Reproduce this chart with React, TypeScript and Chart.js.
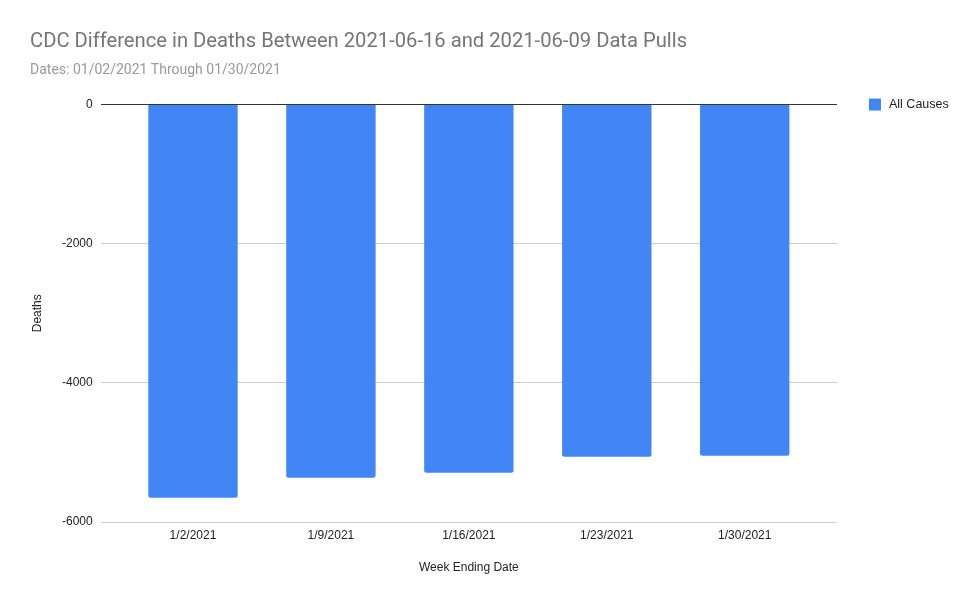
import React, { useEffect, useRef } from "react";
import { Chart, registerables } from "chart.js";

Chart.register(...registerables);

const categories = ["1/2/2021", "1/9/2021", "1/16/2021", "1/23/2021", "1/30/2021"];
const allCauses = [-5650, -5365, -5293, -5063, -5049];
const yTicks = [0, -2000, -4000, -6000];

const titleText = "CDC Difference in Deaths Between 2021-06-16 and 2021-06-09 Data Pulls";
const subtitleText = "Dates: 01/02/2021 Through 01/30/2021";

const legendPlugin = {
  id: "sideLegend",
  afterDraw(chart: any) {
    const ctx = chart.ctx;
    const area = chart.chartArea;
    ctx.save();
    chart.data.datasets.forEach((ds: any, i: number) => {
      const y = area.top + i * 20;
      ctx.fillStyle = ds.backgroundColor;
      ctx.fillRect(869, y - 6, 12, 12);
      ctx.fillStyle = "#222222";
      ctx.font = "12.5px 'Liberation Sans', Arial, sans-serif";
      ctx.textBaseline = "middle";
      ctx.textAlign = "left";
      ctx.fillText(ds.label, 889, y);
    });
    ctx.restore();
  },
};

export default function App() {
  const ref = useRef<HTMLCanvasElement | null>(null);
  useEffect(() => {
    if (!ref.current) return;
    const chart = new Chart(ref.current, {
      type: "bar",
      data: {
        labels: categories,
        datasets: [
          {
            label: "All Causes",
            data: allCauses,
            backgroundColor: "#4285F4",
            borderRadius: 2.5,
            borderSkipped: "start",
            barPercentage: 0.648,
            categoryPercentage: 1,
          },
        ],
      },
      options: {
        animation: false,
        responsive: true,
        maintainAspectRatio: false,
        layout: { padding: { left: 30, right: 143, top: 0, bottom: 27 } },
        plugins: {
          legend: { display: false },
          tooltip: { enabled: false },
          title: {
            display: true,
            text: titleText,
            align: "start",
            color: "#757575",
            font: { family: "Roboto, Arial, sans-serif", size: 20.2, weight: "normal" },
            padding: { top: 30, bottom: 0 },
          },
          subtitle: {
            display: true,
            text: subtitleText,
            align: "start",
            color: "#999999",
            font: { family: "Roboto, Arial, sans-serif", size: 14, weight: "normal" },
            padding: { top: 7.6, bottom: 25.9 },
          },
        },
        scales: {
          x: {
            grid: { display: false, drawTicks: false },
            border: { display: false },
            ticks: {
              color: "#222222",
              padding: 6,
              font: { family: "'Liberation Sans', Arial, sans-serif", size: 12 },
            },
            title: {
              display: true,
              text: "Week Ending Date",
              color: "#222222",
              font: { family: "'Liberation Sans', Arial, sans-serif", size: 12 },
              padding: { top: 17, bottom: 3.5 },
            },
            afterBuildTicks(scale: any) {
              const extra = 0.169;
              scale._startValue = -0.5 - extra;
              scale._valueRange = categories.length + 2 * extra;
            },
            afterFit(scale: any) {
              scale.height = 56;
            },
          },
          y: {
            min: -6000,
            max: 0,
            afterBuildTicks(scale: any) {
              scale.ticks = yTicks.map((v) => ({ value: v }));
            },
            grid: {
              drawTicks: false,
              color: (c: any) => (c.tick && c.tick.value === 0 ? "#333333" : "#cccccc"),
            },
            border: { display: false },
            ticks: {
              color: "#222222",
              padding: 8,
              font: { family: "'Liberation Sans', Arial, sans-serif", size: 12 },
              callback: (v: any) => String(v),
            },
            title: {
              display: true,
              text: "Deaths",
              color: "#222222",
              font: { family: "'Liberation Sans', Arial, sans-serif", size: 12 },
              padding: { top: 0, bottom: 4 },
            },
            afterFit(scale: any) {
              scale.width = 70.7;
            },
          },
        },
      },
      plugins: [legendPlugin],
    });
    return () => chart.destroy();
  }, []);
  return (
    <div style={{ position: "absolute", left: 0, top: 0, width: 980, height: 605, background: "#fff" }}>
      <canvas ref={ref} />
    </div>
  );
}
